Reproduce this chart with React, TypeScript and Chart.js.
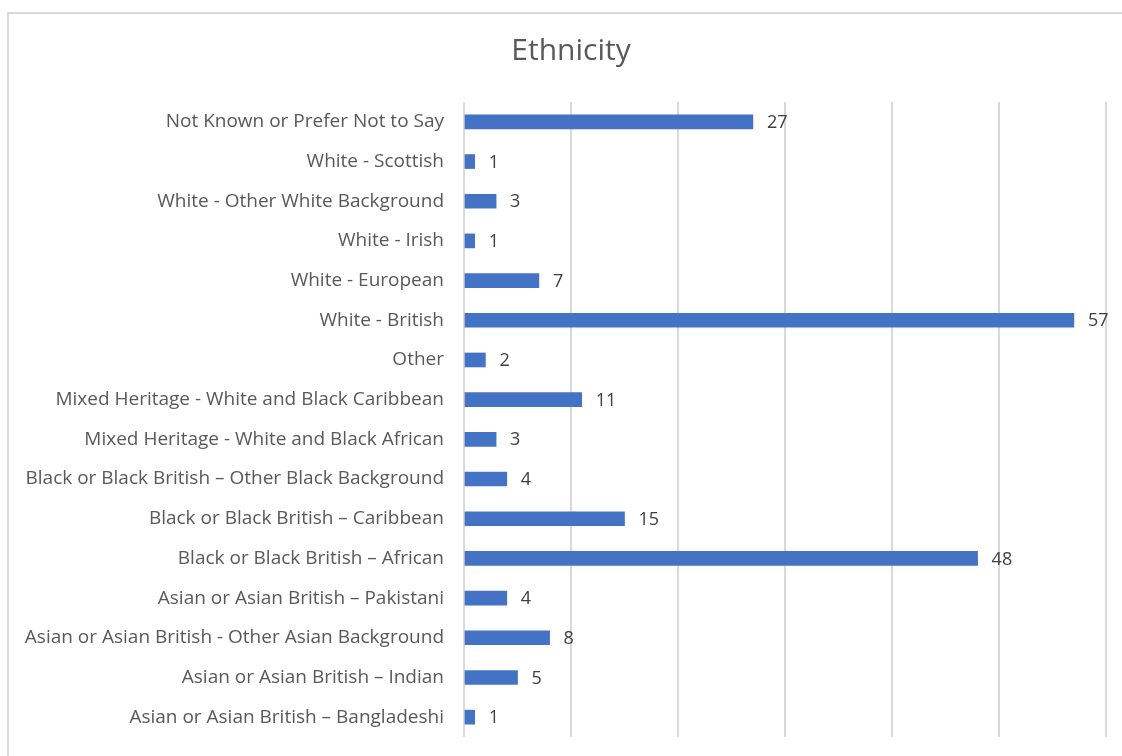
import React, { useEffect, useRef } from "react";
import { Chart, registerables } from "chart.js";

Chart.register(...registerables);

const categories: string[] = [
  "Not Known or Prefer Not to Say",
  "White - Scottish",
  "White - Other White Background",
  "White - Irish",
  "White - European",
  "White - British",
  "Other",
  "Mixed Heritage - White and Black Caribbean",
  "Mixed Heritage - White and Black African",
  "Black or Black British \u2013 Other Black Background",
  "Black or Black British \u2013 Caribbean",
  "Black or Black British \u2013 African",
  "Asian or Asian British \u2013 Pakistani",
  "Asian or Asian British - Other Asian Background",
  "Asian or Asian British \u2013 Indian",
  "Asian or Asian British \u2013 Bangladeshi",
];

const counts: number[] = [27, 1, 3, 1, 7, 57, 2, 11, 3, 4, 15, 48, 4, 8, 5, 1];

const chartTitle = "Ethnicity";
const axisMin = 0;
const axisMax = 60;
const axisStep = 10;

const FONT = "'Open Sans', 'Liberation Sans', sans-serif";

const valueLabels = {
  id: "valueLabels",
  afterDatasetsDraw(chart: any) {
    const ctx = chart.ctx;
    const meta = chart.getDatasetMeta(0);
    const data = chart.data.datasets[0].data as number[];
    ctx.save();
    ctx.font = `18px ${FONT}`;
    ctx.fillStyle = "#404040";
    ctx.textAlign = "left";
    ctx.textBaseline = "middle";
    meta.data.forEach((el: any, i: number) => {
      ctx.fillText(String(data[i]), el.x + 14, el.y + 1);
    });
    ctx.restore();
  },
};

const titlePlugin = {
  id: "fixedTitle",
  afterDraw(chart: any) {
    const ctx = chart.ctx;
    ctx.save();
    ctx.font = `30px ${FONT}`;
    ctx.fillStyle = "#595959";
    ctx.textAlign = "center";
    ctx.textBaseline = "middle";
    ctx.fillText(chartTitle, 571, 51);
    ctx.restore();
  },
};

export default function App() {
  const ref = useRef<HTMLCanvasElement | null>(null);

  useEffect(() => {
    document.body.style.margin = "0";
    if (!ref.current) return;
    const chart = new Chart(ref.current, {
      type: "bar",
      data: {
        labels: categories,
        datasets: [
          {
            data: counts,
            backgroundColor: "#4472C4",
            borderWidth: 0,
            barThickness: 14,
          },
        ],
      },
      plugins: [valueLabels, titlePlugin],
      options: {
        indexAxis: "y",
        animation: false,
        responsive: false,
        maintainAspectRatio: false,
        devicePixelRatio: 1,
        layout: { padding: { left: 0, right: 16, top: 102, bottom: 19 } },
        plugins: {
          legend: { display: false },
          tooltip: { enabled: false },
          title: { display: false },
        },
        scales: {
          x: {
            min: axisMin,
            max: axisMax,
            ticks: { display: false, stepSize: axisStep },
            grid: { color: "#d9d9d9", lineWidth: 2, drawTicks: false },
            border: { display: false },
            afterFit(scale: any) {
              scale.height = 0;
              scale.paddingLeft = 0;
              scale.paddingRight = 0;
            },
          },
          y: {
            grid: { display: false },
            border: { display: false },
            ticks: {
              color: "#595959",
              font: { family: FONT, size: 19 },
              padding: 12,
              autoSkip: false,
            },
            afterFit(scale: any) {
              scale.width = 464;
              scale.paddingTop = 0;
              scale.paddingBottom = 0;
            },
          },
        },
      },
    });
    return () => chart.destroy();
  }, []);

  return (
    <div style={{ position: "relative", width: 1122, height: 756, overflow: "hidden", background: "#fff" }}>
      <div
        style={{
          position: "absolute",
          left: 7,
          top: 12,
          width: 1200,
          height: 800,
          border: "2px solid #d9d9d9",
          boxSizing: "border-box",
        }}
      />
      <canvas ref={ref} width={1122} height={756} style={{ position: "absolute", left: 0, top: 0, width: 1122, height: 756 }} />
    </div>
  );
}
